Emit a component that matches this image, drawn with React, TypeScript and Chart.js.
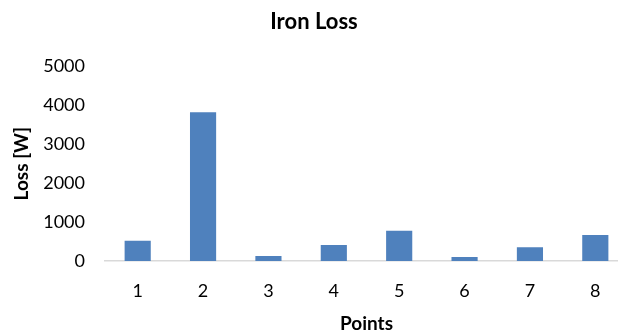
import { useEffect, useRef } from "react";
import { Chart, registerables } from "chart.js";

Chart.register(...registerables);

// Iron loss per measurement point
const categories = ["1", "2", "3", "4", "5", "6", "7", "8"];
const lossValues = [520, 3820, 130, 410, 780, 105, 355, 670];
const yTicks = [0, 1000, 2000, 3000, 4000, 5000];

const FONT = "Lato, 'Open Sans', sans-serif";

export default function App() {
  const ref = useRef<HTMLCanvasElement>(null);

  useEffect(() => {
    document.body.style.margin = "0";
    const chart = new Chart(ref.current!, {
      type: "bar",
      data: {
        labels: categories,
        datasets: [
          {
            data: lossValues,
            backgroundColor: "#4F81BD",
            barPercentage: 0.4,
            categoryPercentage: 1,
          },
        ],
      },
      options: {
        responsive: false,
        animation: false,
        layout: { padding: { left: 0, right: 8, top: 0, bottom: 0 } },
        plugins: {
          legend: { display: false },
          tooltip: { enabled: false },
          title: {
            display: true,
            text: "Iron Loss",
            color: "#000",
            font: { family: FONT, size: 22, weight: "bold" },
            padding: { top: 9, bottom: 31 },
          },
        },
        scales: {
          x: {
            grid: { display: false, drawTicks: false },
            border: { display: true, color: "#D9D9D9", width: 1.5 },
            ticks: { color: "#000", font: { family: FONT, size: 18 }, padding: 19 },
            title: {
              display: true,
              text: "Points",
              color: "#000",
              font: { family: FONT, size: 19, weight: "bold" },
              padding: { top: 0, bottom: 1 },
            },
            afterFit: (s: any) => {
              s.height = 75;
            },
          },
          y: {
            min: 0,
            max: 5000,
            grid: { display: false, drawTicks: false },
            border: { display: false },
            ticks: {
              color: "#000",
              font: { family: FONT, size: 18 },
              padding: 20,
              callback: (v: any) => String(v),
            },
            afterBuildTicks: (s: any) => {
              s.ticks = yTicks.map((v) => ({ value: v }));
            },
            title: {
              display: true,
              text: "Loss [W]",
              color: "#000",
              font: { family: FONT, size: 19, weight: "bold" },
              padding: { top: 10, bottom: 0 },
            },
            afterFit: (s: any) => {
              s.width = 105;
            },
          },
        },
      },
    });
    return () => chart.destroy();
  }, []);

  return (
    <div
      style={{
        position: "fixed",
        left: 0,
        top: 0,
        width: 618,
        height: 336,
        overflow: "hidden",
        background: "#fff",
      }}
    >
      <canvas ref={ref} width={636} height={336} style={{ display: "block" }} />
    </div>
  );
}
